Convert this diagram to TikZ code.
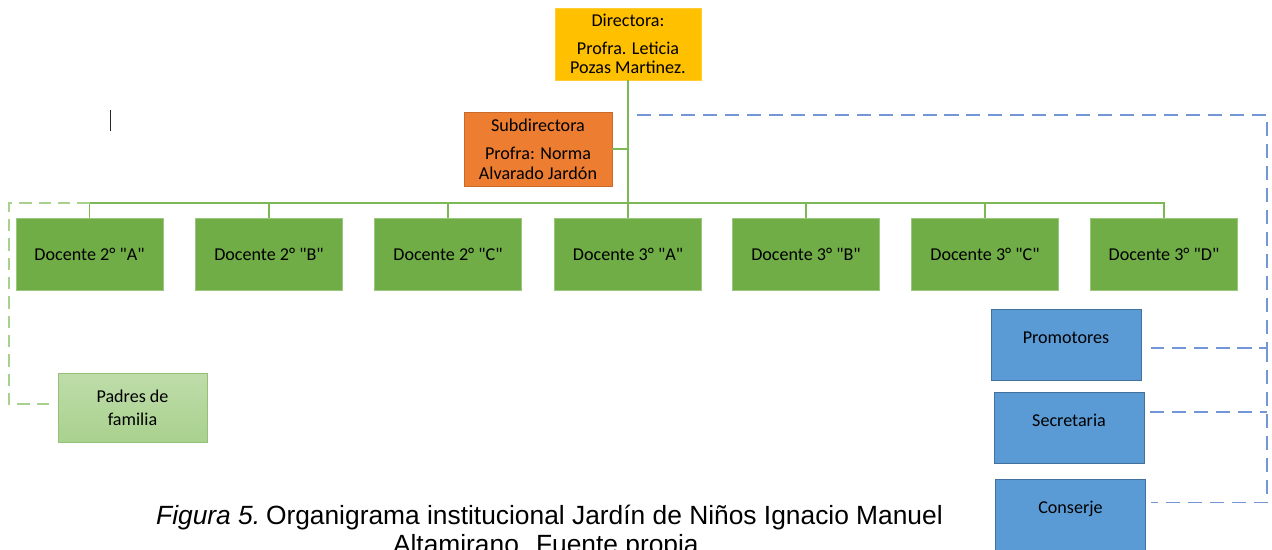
\documentclass[tikz,border=0pt]{standalone}
\usepackage{fontspec}
\setmainfont{Carlito}
\newfontfamily\piefont{Liberation Sans}
\usetikzlibrary{positioning,calc}

\definecolor{amarillo}{HTML}{FFC000}
\definecolor{naranja}{HTML}{ED7D31}
\definecolor{naranjaborde}{HTML}{C9692A}
\definecolor{verde}{HTML}{70AD47}
\definecolor{verdeclaro}{HTML}{A9D18E}
\definecolor{verdelinea}{HTML}{7DB857}
\definecolor{azul}{HTML}{5B9BD5}
\definecolor{azulborde}{HTML}{41719C}
\definecolor{azullinea}{HTML}{7396D6}

\newcommand{\grupo}[1]{\textquotedbl#1\textquotedbl}

\tikzset{
  caja/.style={draw, rectangle, inner sep=0pt, align=center,
    font=\fontsize{10.3}{11.3}\selectfont},
  docente/.style={caja, fill=verde, draw=verde!70!white,
    minimum width=2.94cm, minimum height=1.44cm},
  apoyo/.style={caja, fill=azul, draw=azulborde,
    minimum width=3cm, minimum height=1.42cm, text height=7.5pt, text depth=9pt},
  linea/.style={verdelinea, line width=0.9pt},
  lineapadres/.style={verdeclaro, line width=0.85pt, dash pattern=on 7pt off 4pt},
  lineaapoyo/.style={azullinea, line width=0.85pt, dash pattern=on 8pt off 4.5pt}
}

\begin{document}
\begin{tikzpicture}[x=0.02cm, y=-0.02cm]
  \useasboundingbox (0,0) rectangle (1272,549);
  % Direccion
  \path (628,44) node[caja, fill=amarillo, draw=amarillo!80!white,
    minimum width=2.92cm, minimum height=1.44cm] (dir)
    {Directora:\\[4.5pt]Profra. Leticia\\Pozas Martinez.};
  \path (538,149) node[caja, fill=naranja, draw=naranjaborde,
    minimum width=2.96cm, minimum height=1.48cm] (sub)
    {Subdirectora\\[4.5pt]Profra: Norma\\Alvarado Jardón};
  % Docentes
  \path (89.5,254) node[docente] (d2a) {Docente 2° \grupo{A}};
  \path (269,254) node[docente] (d2b) {Docente 2° \grupo{B}};
  \path (448,254) node[docente] (d2c) {Docente 2° \grupo{C}};
  \path (628,254) node[docente] (d3a) {Docente 3° \grupo{A}};
  \path (806,254) node[docente] (d3b) {Docente 3° \grupo{B}};
  \path (985,254) node[docente] (d3c) {Docente 3° \grupo{C}};
  \path (1164,254) node[docente] (d3d) {Docente 3° \grupo{D}};
  % Padres y personal de apoyo
  \path (132.5,407.5) node[caja, top color=verdeclaro!75!white, bottom color=verdeclaro,
    draw=verde!75!white, minimum width=2.98cm, minimum height=1.38cm,
    font=\fontsize{10.3}{13}\selectfont] (pad) {Padres de\\familia};
  \path (1066,345) node[apoyo] (prom) {Promotores};
  \path (1069,427.5) node[apoyo] (sec) {Secretaria};
  \path (1070.5,515) node[apoyo, minimum height=1.44cm] (cons) {Conserje};
  % Lineas de mando
  \coordinate (bus) at (628,203);
  \draw[linea] (dir) -- (d3a) (sub.east) -- (sub.east -| dir.south);
  \draw[linea] (d2a.north) |- (bus) -| (d3d.north)
    (d2b.north) -- (d2b.north |- bus) (d2c.north) -- (d2c.north |- bus)
    (d3b.north) -- (d3b.north |- bus) (d3c.north) -- (d3c.north |- bus);
  % Lineas punteadas
  \coordinate (esqpad) at (9,203);
  \draw[lineapadres] (d2a.north |- bus) -- (esqpad) |- ([xshift=-0.16cm, yshift=0.07cm]pad.west);
  \coordinate (iniapoyo) at (637,115);
  \coordinate (esqapoyo) at (1267,115);
  \draw[lineaapoyo] (iniapoyo) -- (esqapoyo) |- ([xshift=0.2cm, yshift=-0.06cm]prom.east);
  \draw[lineaapoyo] ([xshift=0.12cm, yshift=0.31cm]sec.east) -- ([yshift=0.31cm]sec.east -| esqapoyo);
  \draw[lineaapoyo] ([yshift=-0.06cm]prom.east -| esqapoyo) |- ([xshift=0.1cm, yshift=0.25cm]cons.east);
  % Marca
  \draw[black!85, line width=0.9pt] (110.5,110) -- (110.5,131);
  % Pie de figura
  \path (549.5,524) node[anchor=base, inner sep=0pt, font=\piefont\fontsize{15}{18}\selectfont] (pie1)
    {\textit{Figura 5.}\hspace{-0.15em} Organigrama institucional Jardín de Niños Ignacio Manuel};
  \path (549.5,553) node[anchor=base, inner sep=0pt, font=\piefont\fontsize{15}{18}\selectfont] (pie2)
    {Altamirano. Fuente propia.};
\end{tikzpicture}
\end{document}
